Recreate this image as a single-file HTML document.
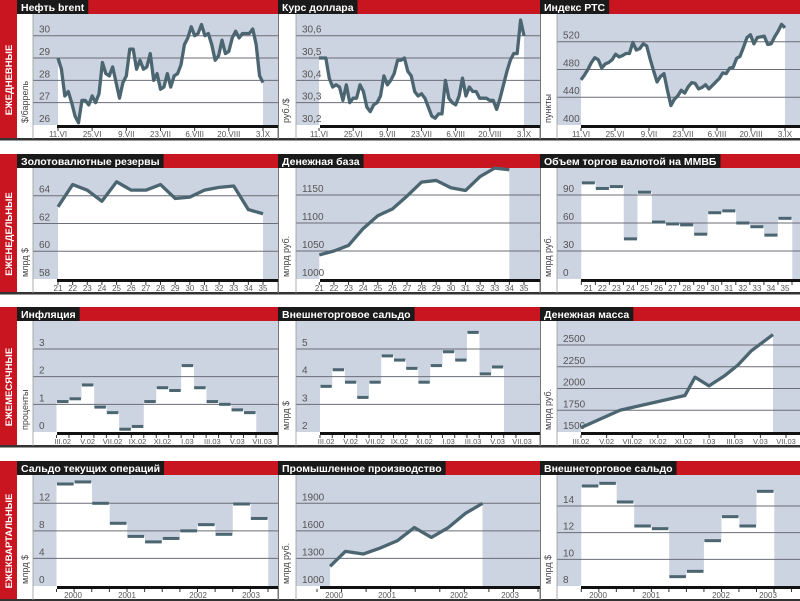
<!DOCTYPE html>
<html><head><meta charset="utf-8"><style>
html,body{margin:0;padding:0;background:#fff;}
svg{display:block;font-family:"Liberation Sans",sans-serif;}
</style></head><body>
<svg id="s" width="800" height="601" viewBox="0 0 800 601" xmlns="http://www.w3.org/2000/svg"></svg>
<script>
const S=document.getElementById('s');const NS='http://www.w3.org/2000/svg';
function el(t,a,txt){const e=document.createElementNS(NS,t);for(const k in a)e.setAttribute(k,a[k]);if(txt!=null)e.textContent=txt;S.appendChild(e);return e;}
const RED='#c8151f',BLUE='#ccd3e1',LINE='#4b6571';
const ROWS=[[0,'ЕЖЕДНЕВНЫЕ'],[154,'ЕЖЕНЕДЕЛЬНЫЕ'],[307,'ЕЖЕМЕСЯЧНЫЕ'],[461,'ЕЖЕКВАРТАЛЬНЫЕ']];
const PX=[[17,33,278],[278,296,540],[540,557,800]];
function map(v0,y0,v1,y1){return v=>y0+(v-v0)*(y1-y0)/(v1-v0);}
function panel(r,c,o){
 const T=ROWS[r][0],B=T+125,[pl,x0,x1]=PX[c];
 el('rect',{x:x0,y:T+14,width:x1-x0,height:B-T-14,fill:BLUE});
 const fy=map(o.v0,B,o.v1,o.y1);
 if(o.line){
  const n=o.line.length;let pts=o.line.map((v,i)=>[o.a+(o.b-o.a)*i/(n-1),fy(v)]);
  if(o.pts)pts=o.pts;
  el('polygon',{points:pts.map(p=>p.join(',')).join(' ')+` ${pts[pts.length-1][0]},${B} ${pts[0][0]},${B}`,fill:'#fff'});
  o._pts=pts;
 }
 if(o.bars){
  const w=(o.b-o.a)/o.bars.length;
  o.bars.forEach((v,i)=>el('rect',{x:o.a+i*w,y:fy(v),width:w+0.3,height:B-fy(v),fill:'#fff'}));
 }
 o.ticks.forEach(v=>{const y=fy(v);if(Math.abs(y-B)>2)el('line',{x1:x0,x2:x1,y1:y,y2:y,stroke:'#6a6e76','stroke-width':1});
  el('text',{x:x0+6,y:y-3,'font-size':10,fill:'#555'},o.fmt?o.fmt(v):String(v));});
 if(o.line)el('polyline',{points:o._pts.map(p=>p.join(',')).join(' '),fill:'none',stroke:LINE,'stroke-width':3.3,'stroke-linejoin':'round'});
 if(o.bars){const w=(o.b-o.a)/o.bars.length;o.bars.forEach((v,i)=>el('rect',{x:o.a+i*w+0.5,y:fy(v)-1.5,width:w-1,height:3,fill:LINE}));}
 el('rect',{x:x0+(o.bl||24),y:B,width:x1-x0-(o.bl||24),height:3,fill:'#111'});
 o.tk.forEach(x=>el('line',{x1:x,x2:x,y1:B+3,y2:B+6,stroke:'#333','stroke-width':1}));
 o.lab.forEach(([x,t])=>el('text',{x:x,y:B+12,'font-size':o.lfs||8,fill:'#555','text-anchor':'middle'},t));
 el('text',{transform:`translate(${pl+11},${B-2}) rotate(-90)`,'font-size':9,fill:'#444'},o.unit);
 el('line',{x1:x0,x2:x0,y1:T+14,y2:T+139,stroke:'#999','stroke-width':0.8});
 const t=el('text',{x:pl+4,y:T+11,'font-size':10.5,'font-weight':'bold',fill:'#fff'},o.title);
 const w=t.getComputedTextLength();
 const rr=el('rect',{x:pl,y:T,width:w+8,height:14,fill:'#1a1a1a'});S.insertBefore(rr,t);
}
ROWS.forEach(([T,l])=>{
 el('rect',{x:0,y:T,width:800,height:14,fill:RED});
 el('rect',{x:0,y:T,width:17,height:139,fill:RED});
 el('text',{transform:`translate(12,${T+80}) rotate(-90)`,'font-size':9.5,'font-weight':'bold',fill:'#fff','text-anchor':'middle'},l);
 el('rect',{x:0,y:T+138,width:800,height:2.5,fill:'#333'});
 el('rect',{x:277.5,y:T+14,width:1.5,height:125,fill:'#777'});
 el('rect',{x:539.5,y:T+14,width:1.5,height:125,fill:'#777'});
});
const D1=['11.VI','25.VI','9.VII','23.VII','6.VIII','20.VIII','3.IX'];
function ev(a,b,n){const r=[];for(let i=0;i<n;i++)r.push(a+(b-a)*i/(n-1));return r;}
function weeks(a,b,n,s){return ev(a,b,n).map((x,i)=>[x,String(s+i)]);}
let x=ev(58,263,7);
panel(0,0,{title:'Нефть brent',unit:'$/баррель',v0:26,v1:30,y1:35.7,ticks:[26,27,28,29,30],a:58,b:263,
 line:[29,28.5,27.3,27.5,27,26.4,26.1,27.1,27.1,26.9,27.3,27,27.4,28.8,28.3,28.2,28.6,27.9,27.2,27.9,28.2,29.4,29.4,28.5,28.9,28.5,28.6,29.2,28,28.3,27.6,27.7,28.3,27.7,28.2,28.3,28.7,29.6,29.9,30.4,30,30.1,30.5,30,30.1,29.6,28.9,29.1,29.8,29.2,29.3,29.9,30.2,29.9,30.1,30.1,30.1,30.3,29.6,28.2,27.9],
 tk:x,lab:x.map((v,i)=>[v,D1[i]])});
x=ev(319,524,7);
panel(0,1,{title:'Курс доллара',unit:'руб./$',v0:30.2,v1:30.6,y1:35.7,ticks:[30.2,30.3,30.4,30.5,30.6],fmt:v=>v.toFixed(1).replace('.',','),a:319,b:524,
 line:[30.5,30.5,30.5,30.41,30.37,30.38,30.37,30.31,30.38,30.3,30.32,30.32,30.38,30.35,30.28,30.26,30.29,30.3,30.33,30.42,30.38,30.4,30.43,30.49,30.49,30.5,30.44,30.42,30.35,30.33,30.34,30.32,30.28,30.24,30.23,30.25,30.25,30.4,30.32,30.3,30.29,30.33,30.41,30.33,30.37,30.35,30.35,30.32,30.32,30.32,30.31,30.31,30.27,30.32,30.38,30.44,30.49,30.52,30.52,30.67,30.6],
 tk:x,lab:x.map((v,i)=>[v,D1[i]])});
x=ev(581,785,7);
panel(0,2,{title:'Индекс РТС',unit:'пункты',v0:400,v1:520,y1:41.7,ticks:[400,440,480,520],a:581,b:785,
 line:[465,472,480,490,497,494,482,488,490,494,502,498,500,503,503,519,508,510,517,514,495,478,462,470,474,450,428,437,442,450,446,455,461,460,452,454,458,452,457,462,467,475,474,482,483,496,499,512,526,530,517,526,527,528,516,517,527,535,545,540],
 tk:x,lab:x.map((v,i)=>[v,D1[i]])});
let wk=weeks(58,263,15,21);
panel(1,0,{title:'Золотовалютные резервы',unit:'млрд $',v0:58,v1:64,y1:195.7,ticks:[58,60,62,64],a:58,b:263,
 line:[63.2,64.8,64.4,63.6,65,64.4,64.4,64.8,63.8,63.9,64.4,64.6,64.7,63,62.7],tk:wk.map(v=>v[0]),lab:wk});
wk=weeks(319.3,524,15,21);
panel(1,1,{title:'Денежная база',unit:'млрд руб.',v0:1000,v1:1150,y1:195,ticks:[1000,1050,1100,1150],a:319.3,b:509.3,
 line:[1043,1050,1060,1090,1113,1125,1148,1173,1176,1163,1158,1183,1198,1195],tk:wk.map(v=>v[0]),lab:wk});
{const a=581.3,b=792,w=(b-a)/15;const lab=[];const tk=[];for(let i=0;i<15;i++){lab.push([a+w*(i+.5),String(21+i)]);}for(let i=0;i<=15;i++)tk.push(a+w*i);
panel(1,2,{title:'Объем торгов валютой на ММВБ',unit:'млрд руб.',v0:0,v1:90,y1:195,ticks:[0,30,60,90],a:a,b:b,
 bars:[103,97,99,43,93,61,59,58,48,71,73,60,56,47,65],tk:tk,lab:lab});}
const M=['III.02','V.02','VII.02','IX.02','XI.02','I.03','III.03','V.03','VII.03'];
{const a=56.5,b=256,n=16,w=(b-a)/n;const tk=[];for(let i=0;i<=n;i++)tk.push(a+w*i);
panel(2,0,{title:'Инфляция',unit:'проценты',v0:0,v1:3,y1:349,ticks:[0,1,2,3],a:a,b:b,lfs:7.5,
 bars:[1.1,1.2,1.7,0.9,0.7,0.1,0.2,1.1,1.6,1.5,2.4,1.6,1.1,1.0,0.8,0.7],tk:tk,lab:M.map((t,i)=>[a+w*(2*i+.5),t])});}
{const a=320,b=503.7,n=15,w=(b-a)/n;const tk=[];for(let i=0;i<=n+1;i++)tk.push(a+w*i);
panel(2,1,{title:'Внешнеторговое сальдо',unit:'млрд $',v0:2,v1:5,y1:349,ticks:[2,3,4,5],a:a,b:b,lfs:7.5,
 bars:[3.65,4.25,3.8,3.25,3.8,4.75,4.6,4.3,3.8,4.4,4.9,4.6,5.6,4.1,4.35],tk:tk,lab:M.map((t,i)=>[a+w*(2*i+.5),t])});}
{const f=map(1500,432,2500,345);const xs=[581,620,685,695,709,725,738,751,773],vs=[1550,1750,1920,2130,2030,2150,2270,2430,2620];
const pts=xs.map((x,i)=>[x,f(vs[i])]);const lx=ev(581,786,9);
panel(2,2,{title:'Денежная масса',unit:'млрд руб.',v0:1500,v1:2500,y1:345,ticks:[1500,1750,2000,2250,2500],line:vs,pts:pts,lfs:7.5,
 tk:lx,lab:lx.map((x,i)=>[x,M[i]])});}
{const a=56.5,b=268,n=12,w=(b-a)/n;const tk=[];for(let i=0;i<=n;i++)tk.push(a+w*i);
panel(3,0,{title:'Сальдо текущих операций',unit:'млрд $',v0:0,v1:12,y1:503.3,ticks:[0,4,8,12],a:a,b:b,
 bars:[14.8,15.1,12,9.1,7.2,6.4,6.9,8,8.9,7.5,11.9,9.8],tk:tk,lab:[[73,'2000'],[127,'2001'],[198,'2002'],[251,'2003']]});}
{const img=[[958,345],[1003,300],[1055,308],[1105,290],[1155,268],[1205,228],[1255,258],[1305,228],[1355,185],[1405,155]];
const pts=img.map(([a,b])=>[296+(a-858)*.341,461+(b-27)*.331]);const tk=ev(317,538,10);
panel(3,1,{title:'Промышленное производство',unit:'млрд руб.',v0:1000,v1:1900,y1:503.3,ticks:[1000,1300,1600,1900],line:pts.map(p=>0),pts:pts,
 tk:tk,lab:[[334,'2000'],[387,'2001'],[459,'2002'],[510,'2003']]});}
{const a=581.3,b=774,n=11,w=(b-a)/n;const tk=[];for(let i=0;i<=n+1;i++)tk.push(a+w*i);
panel(3,2,{title:'Внешнеторговое сальдо',unit:'млрд $',v0:8,v1:14,y1:506,ticks:[8,10,12,14],a:a,b:b,
 bars:[15.5,15.7,14.3,12.5,12.3,8.7,9.1,11.4,13.2,12.5,15.1],tk:tk,lab:[[598,'2000'],[651,'2001'],[721,'2002'],[768,'2003']]});}
</script>
</body></html>
